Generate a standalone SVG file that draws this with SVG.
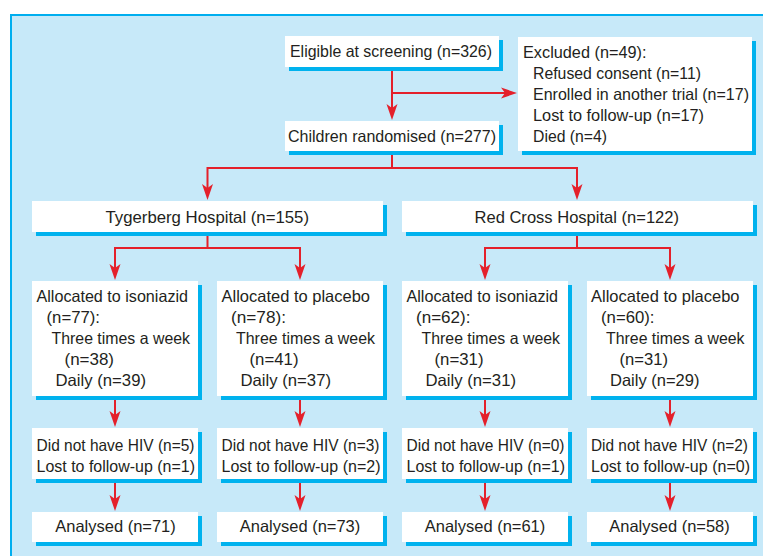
<svg xmlns="http://www.w3.org/2000/svg" width="763" height="556" viewBox="0 0 763 556">
<style>
.bx{fill:#ffffff}
.sh{fill:#00b2ee}
.t{font-family:"Liberation Sans",Arial,sans-serif;font-size:16.5px;fill:#231f20}
.m{text-anchor:middle}
.c{fill:none;stroke:#e4202b;stroke-width:2}
</style>
<defs>
<marker id="ah" markerUnits="userSpaceOnUse" markerWidth="17" markerHeight="12" viewBox="0 -6 17 12" refX="5" refY="0" orient="auto">
<path d="M16,0 L0,-5.5 L4,0 L0,5.5 Z" fill="#e4202b"/>
</marker>
</defs>
<rect x="11" y="15" width="800" height="600" fill="#c7e9f9" stroke="#00aeef" stroke-width="2"/>

<g id="connectors">
<path class="c" d="M392,67 V109" marker-end="url(#ah)"/>
<path class="c" d="M392,93 H506" marker-end="url(#ah)"/>
<path class="c" d="M392,151 V168 H207.5 V189" marker-end="url(#ah)"/>
<path class="c" d="M392,168 H577 V189" marker-end="url(#ah)"/>
<path class="c" d="M207.5,232 V248 H115 V269" marker-end="url(#ah)"/>
<path class="c" d="M207.5,248 H300 V269" marker-end="url(#ah)"/>
<path class="c" d="M577,232 V248 H485 V269" marker-end="url(#ah)"/>
<path class="c" d="M577,248 H670 V269" marker-end="url(#ah)"/>
<path class="c" d="M115,396 V416" marker-end="url(#ah)"/>
<path class="c" d="M300,396 V416" marker-end="url(#ah)"/>
<path class="c" d="M485,396 V416" marker-end="url(#ah)"/>
<path class="c" d="M670,396 V416" marker-end="url(#ah)"/>
<path class="c" d="M115,479 V500" marker-end="url(#ah)"/>
<path class="c" d="M300,479 V500" marker-end="url(#ah)"/>
<path class="c" d="M485,479 V500" marker-end="url(#ah)"/>
<path class="c" d="M670,479 V500" marker-end="url(#ah)"/>
</g>

<g id="eligible">
<rect class="sh" x="289" y="40" width="214" height="31"/>
<rect class="bx" x="285" y="36" width="214" height="31"/>
<text class="t" x="290" y="57" textLength="202" lengthAdjust="spacingAndGlyphs">Eligible at screening (n=326)</text>
</g>

<g id="excluded">
<rect class="sh" x="522" y="41" width="234" height="114"/>
<rect class="bx" x="518" y="37" width="234" height="114"/>
<text class="t" x="523" y="57.5" textLength="123.5" lengthAdjust="spacingAndGlyphs">Excluded (n=49):</text>
<text class="t" x="533" y="79" textLength="168" lengthAdjust="spacingAndGlyphs">Refused consent (n=11)</text>
<text class="t" x="533" y="100" textLength="216" lengthAdjust="spacingAndGlyphs">Enrolled in another trial (n=17)</text>
<text class="t" x="533" y="121" textLength="171" lengthAdjust="spacingAndGlyphs">Lost to follow-up (n=17)</text>
<text class="t" x="533" y="142" textLength="74" lengthAdjust="spacingAndGlyphs">Died (n=4)</text>
</g>

<g id="randomised">
<rect class="sh" x="289" y="125" width="214" height="30"/>
<rect class="bx" x="285" y="121" width="214" height="30"/>
<text class="t" x="288" y="142" textLength="208" lengthAdjust="spacingAndGlyphs">Children randomised (n=277)</text>
</g>

<g id="tygerberg">
<rect class="sh" x="36" y="205" width="351" height="31"/>
<rect class="bx" x="32" y="201" width="351" height="31"/>
<text class="t" x="105.5" y="222.5" textLength="203.5" lengthAdjust="spacingAndGlyphs">Tygerberg Hospital (n=155)</text>
</g>

<g id="redcross">
<rect class="sh" x="406" y="205" width="351" height="31"/>
<rect class="bx" x="402" y="201" width="351" height="31"/>
<text class="t" x="474.5" y="222.5" textLength="204.5" lengthAdjust="spacingAndGlyphs">Red Cross Hospital (n=122)</text>
</g>

<g id="tyg-isoniazid">
<rect class="sh" x="36" y="285" width="166" height="115"/>
<rect class="bx" x="32" y="281" width="166" height="115"/>
<text class="t" x="36.5" y="301.5" textLength="151.5" lengthAdjust="spacingAndGlyphs">Allocated to isoniazid</text>
<text class="t" x="46.5" y="322.5" textLength="53.5" lengthAdjust="spacingAndGlyphs">(n=77):</text>
<text class="t" x="51.5" y="344" textLength="138.5" lengthAdjust="spacingAndGlyphs">Three times a week</text>
<text class="t" x="64.5" y="365" textLength="49.5" lengthAdjust="spacingAndGlyphs">(n=38)</text>
<text class="t" x="55.5" y="386" textLength="90.5" lengthAdjust="spacingAndGlyphs">Daily (n=39)</text>
</g>

<g id="tyg-placebo">
<rect class="sh" x="221" y="285" width="166" height="115"/>
<rect class="bx" x="217" y="281" width="166" height="115"/>
<text class="t" x="221.5" y="301.5" textLength="148.5" lengthAdjust="spacingAndGlyphs">Allocated to placebo</text>
<text class="t" x="231" y="322.5" textLength="55" lengthAdjust="spacingAndGlyphs">(n=78):</text>
<text class="t" x="236" y="344" textLength="139" lengthAdjust="spacingAndGlyphs">Three times a week</text>
<text class="t" x="249.5" y="365" textLength="49" lengthAdjust="spacingAndGlyphs">(n=41)</text>
<text class="t" x="240.5" y="386" textLength="90.5" lengthAdjust="spacingAndGlyphs">Daily (n=37)</text>
</g>

<g id="rc-isoniazid">
<rect class="sh" x="406" y="285" width="166" height="115"/>
<rect class="bx" x="402" y="281" width="166" height="115"/>
<text class="t" x="406.5" y="301.5" textLength="151.5" lengthAdjust="spacingAndGlyphs">Allocated to isoniazid</text>
<text class="t" x="416" y="322.5" textLength="54.5" lengthAdjust="spacingAndGlyphs">(n=62):</text>
<text class="t" x="421.5" y="344" textLength="138.5" lengthAdjust="spacingAndGlyphs">Three times a week</text>
<text class="t" x="434.5" y="365" textLength="49" lengthAdjust="spacingAndGlyphs">(n=31)</text>
<text class="t" x="425.5" y="386" textLength="90.5" lengthAdjust="spacingAndGlyphs">Daily (n=31)</text>
</g>

<g id="rc-placebo">
<rect class="sh" x="591" y="285" width="166" height="115"/>
<rect class="bx" x="587" y="281" width="166" height="115"/>
<text class="t" x="591" y="301.5" textLength="148.5" lengthAdjust="spacingAndGlyphs">Allocated to placebo</text>
<text class="t" x="601" y="322.5" textLength="53.5" lengthAdjust="spacingAndGlyphs">(n=60):</text>
<text class="t" x="606" y="344" textLength="138.5" lengthAdjust="spacingAndGlyphs">Three times a week</text>
<text class="t" x="619.5" y="365" textLength="48.5" lengthAdjust="spacingAndGlyphs">(n=31)</text>
<text class="t" x="610" y="386" textLength="89.5" lengthAdjust="spacingAndGlyphs">Daily (n=29)</text>
</g>

<g id="tyg-iso-losses">
<rect class="sh" x="36" y="432" width="166" height="51"/>
<rect class="bx" x="32" y="428" width="166" height="51"/>
<text class="t" x="36.5" y="451" textLength="158" lengthAdjust="spacingAndGlyphs">Did not have HIV (n=5)</text>
<text class="t" x="36.5" y="472" textLength="158.5" lengthAdjust="spacingAndGlyphs">Lost to follow-up (n=1)</text>
</g>

<g id="tyg-pla-losses">
<rect class="sh" x="221" y="432" width="166" height="51"/>
<rect class="bx" x="217" y="428" width="166" height="51"/>
<text class="t" x="221.5" y="451" textLength="158" lengthAdjust="spacingAndGlyphs">Did not have HIV (n=3)</text>
<text class="t" x="221.5" y="472" textLength="159" lengthAdjust="spacingAndGlyphs">Lost to follow-up (n=2)</text>
</g>

<g id="rc-iso-losses">
<rect class="sh" x="406" y="432" width="166" height="51"/>
<rect class="bx" x="402" y="428" width="166" height="51"/>
<text class="t" x="406.5" y="451" textLength="158" lengthAdjust="spacingAndGlyphs">Did not have HIV (n=0)</text>
<text class="t" x="406.5" y="472" textLength="158.5" lengthAdjust="spacingAndGlyphs">Lost to follow-up (n=1)</text>
</g>

<g id="rc-pla-losses">
<rect class="sh" x="591" y="432" width="166" height="51"/>
<rect class="bx" x="587" y="428" width="166" height="51"/>
<text class="t" x="591" y="451" textLength="157" lengthAdjust="spacingAndGlyphs">Did not have HIV (n=2)</text>
<text class="t" x="591" y="472" textLength="159" lengthAdjust="spacingAndGlyphs">Lost to follow-up (n=0)</text>
</g>

<g id="tyg-iso-analysed">
<rect class="sh" x="36" y="516" width="166" height="30"/>
<rect class="bx" x="32" y="512" width="166" height="30"/>
<text class="t m" x="115.5" y="532" textLength="120.5" lengthAdjust="spacingAndGlyphs">Analysed (n=71)</text>
</g>

<g id="tyg-pla-analysed">
<rect class="sh" x="221" y="516" width="166" height="30"/>
<rect class="bx" x="217" y="512" width="166" height="30"/>
<text class="t m" x="300" y="532" textLength="120.5" lengthAdjust="spacingAndGlyphs">Analysed (n=73)</text>
</g>

<g id="rc-iso-analysed">
<rect class="sh" x="406" y="516" width="166" height="30"/>
<rect class="bx" x="402" y="512" width="166" height="30"/>
<text class="t m" x="485" y="532" textLength="120.5" lengthAdjust="spacingAndGlyphs">Analysed (n=61)</text>
</g>

<g id="rc-pla-analysed">
<rect class="sh" x="591" y="516" width="166" height="30"/>
<rect class="bx" x="587" y="512" width="166" height="30"/>
<text class="t m" x="669.5" y="532" textLength="120.5" lengthAdjust="spacingAndGlyphs">Analysed (n=58)</text>
</g>
</svg>
